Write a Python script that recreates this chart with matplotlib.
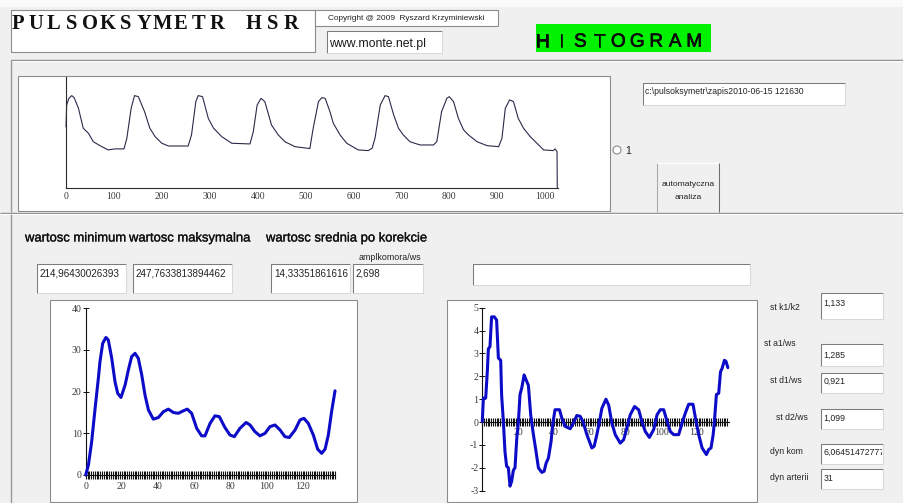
import matplotlib
matplotlib.use("Agg")
import matplotlib.pyplot as plt
import matplotlib.patheffects as pe
from matplotlib.patches import Rectangle, Circle
from matplotlib.transforms import Bbox

# ---------------- data ----------------
pulse_t = [0, 1.4, 6, 12, 17, 26, 31, 36, 47, 57, 71, 88, 102, 121, 127, 136, 143, 151, 164, 175,
           186, 200, 214, 255, 262, 271, 276, 285, 297, 308, 325, 346, 384, 391, 399, 407, 415, 429,
           443, 457, 478, 509, 516, 527, 534, 541, 551, 558, 572, 586, 610, 631, 639, 645, 656, 666,
           673, 684, 694, 704, 718, 739, 767, 774, 784, 795, 800, 809, 819, 830, 840, 858, 879, 903,
           910, 917, 926, 934, 944, 955, 969, 983, 997, 1017, 1021, 1025, 1025.5]
pulse_v = [229.6, 242.3, 246.2, 247.8, 246.6, 240.4, 234.5, 228.7, 225.7, 220.8, 218.5, 216.0, 216.6,
           216.6, 222.8, 240.4, 247.8, 247.2, 238.4, 228.7, 223.8, 219.9, 218.3, 218.3, 224.8, 244.3,
           247.8, 247.2, 234.5, 228.7, 223.8, 219.9, 219.5, 226.7, 242.3, 246.2, 244.3, 230.6, 224.8,
           220.8, 217.9, 216.8, 228.7, 244.3, 246.6, 246.2, 238.4, 231.6, 224.8, 219.9, 216.0, 215.6,
           217.0, 222.8, 242.3, 247.8, 247.2, 236.5, 228.7, 224.8, 220.8, 218.9, 218.9, 220.8, 238.4,
           246.2, 247.2, 244.3, 234.5, 227.7, 224.8, 220.8, 218.5, 217.9, 222.8, 240.4, 245.3, 244.3,
           234.5, 228.7, 223.8, 219.9, 216.0, 215.6, 216.6, 215.0, 193.7]
pulse_xticks = [0, 100, 200, 300, 400, 500, 600, 700, 800, 900, 1000]

hist_bins = [0, 1.5, 3.3, 5.2, 7, 7.9, 9.4, 11.2, 12.5, 14.4, 16.2, 17.7, 19.5, 21.8, 23.6, 25.4,
             27.3, 29.1, 31, 32.8, 34.7, 37.4, 40.2, 43, 45.7, 48.5, 51.2, 54, 56.2, 58.6, 61.4, 64.1,
             66, 68.8, 71.5, 73.9, 77, 79.8, 82.2, 85.3, 88.7, 90.9, 93.6, 96.4, 99.2, 101.9, 104.7,
             107.5, 110.2, 112.6, 115.8, 118.5, 120.7, 123.1, 125.9, 128.3, 130.5, 132.4, 134.2, 136,
             137.9]
hist_vals = [0, 2.4, 8, 16, 23.2, 27.2, 31.6, 33, 32.4, 28, 22.4, 19.6, 18.6, 21.6, 25.2, 28.4,
             29.2, 28, 24, 19.2, 15.6, 13.4, 13.8, 15.2, 15.8, 15, 14.8, 15.4, 15.8, 14.8, 11.2, 9.4,
             9.4, 12.4, 14.2, 14, 11.4, 9.6, 9.2, 11.2, 12.6, 12, 10.4, 9.4, 10, 11.6, 12, 10.8, 9.2,
             9, 10.8, 13.2, 13.6, 12.4, 9.6, 6.2, 5.2, 6.2, 9.6, 15.2, 20.2]
hist_xticks = [0, 20, 40, 60, 80, 100, 120]
hist_yticks = [0, 10, 20, 30, 40]

deriv_t = [0, 0.6, 1.9, 2.8, 3.4, 4.3, 5.2, 6.7, 8, 9, 10.3, 10.8, 11.8, 12.7, 13.6, 14.6, 15.5,
           16.4, 17.4, 18.3, 19.3, 20.2, 21.1, 22.1, 23.4, 24.5, 25.8, 27.1, 28.6, 30.1, 31.4, 33.3,
           34.6, 35.7, 37, 38.5, 39.4, 40.7, 43.2, 44.5, 46.4, 49.2, 51, 52.9, 54.8, 56.3, 58.5,
           61.3, 62.6, 64.1, 65.6, 66.9, 69.2, 70.7, 72.5, 74.4, 77.2, 79.1, 80.9, 82.8, 85.2, 87.5,
           89.3, 91.2, 93.5, 95.9, 97.8, 99.6, 101.5, 103.4, 105.2, 107.1, 109.9, 111.8, 113.6,
           115.5, 117.9, 119.3, 121.1, 123, 125.4, 126.7, 128, 129.2, 129.9, 131, 132.3, 133.3,
           134.2, 135.5, 136.4, 137.4]
deriv_v = [0.03, 1.05, 1.05, 2.2, 3.2, 3.3, 4.6, 4.6, 4.46, 2.8, 2.7, 1.2, 0, -1.3, -1.93, -2, -2.8,
           -2.6, -2.1, -2, -0.7, 0, 1.2, 1.5, 2.06, 1.85, 1.6, 0.3, -0.55, -1.3, -2, -2.2, -2.15,
           -1.8, -1.57, -0.84, -0.1, 0.54, 0.54, 0.17, -0.19, -0.29, -0.04, 0.29, 0.25, 0.03, -0.55,
           -1.13, -1.06, -0.55, 0.03, 0.6, 1.0, 0.75, -0.04, -0.55, -0.92, -0.77, -0.26, 0.32, 0.68,
           0.54, 0.03, -0.41, -0.67, -0.33, 0.32, 0.54, 0.54, 0.03, -0.41, -0.55, -0.55, -0.04, 0.39,
           0.78, 0.78, 0.17, -0.55, -1.13, -1.42, -1.2, -1.13, -0.55, 0.03, 1.2, 1.26, 2.2, 2.35,
           2.7, 2.65, 2.38]
deriv_xticks = [20, 40, 60, 80, 100, 120]
deriv_yticks = [-3, -2, -1, 0, 1, 2, 3, 4, 5]

title_word1 = "PULSOKSYMETR"
title_word2 = "HSR"
badge_text = "HISTOGRAM"
copyright_text = "Copyright @ 2009  Ryszard Krzyminiewski"
www_text = "www.monte.net.pl"
path_text = "c:\\pulsoksymetr\\zapis2010-06-15 121630"
button_lines = ["automatyczna", "analiza"]
header_labels = ["wartosc minimum", "wartosc maksymalna", "wartosc srednia po korekcie"]
field_values = ["214,96430026393", "247,7633813894462", "14,33351861616", "2,698"]
side_labels = ["st k1/k2", "st a1/ws", "st d1/ws", "st d2/ws", "dyn kom", "dyn arterii"]
side_values = ["1,133", "1,285", "0,921", "1,099", "6,06451472777", "31"]

# ---------------- fonts ----------------
SANS = 'Liberation Sans'
SERIF = 'Liberation Serif'
plt.rcParams['font.family'] = [SERIF, 'DejaVu Serif']
plt.rcParams['axes.unicode_minus'] = False

W, H = 904, 503
fig = plt.figure(figsize=(W / 100, H / 100), dpi=100)
fig.patch.set_facecolor('#f0f0f0')
ui = fig.add_axes([0, 0, 1, 1])
ui.set_xlim(0, W)
ui.set_ylim(H, 0)
ui.axis('off')
ui.set_zorder(0)


def rect(x0, y0, x1, y1, fc, ec='none', lw=0.8, z=1):
    ui.add_patch(Rectangle((x0, y0), x1 - x0, y1 - y0, facecolor=fc, edgecolor=ec,
                           linewidth=lw, zorder=z))


def seg(xs, ys, c, lw=0.75, z=2):
    ui.plot(xs, ys, color=c, lw=lw, solid_capstyle='butt', zorder=z)


def sunken(x0, y0, x1, y1, fc='white'):
    rect(x0, y0, x1, y1, fc)
    seg([x0, x0, x1], [y1, y0, y0], '#7c7c7c')
    seg([x0, x1, x1], [y1, y1, y0], '#d8d8d8')


def txt(x, y, s, em, family=SANS, color='#1a1a1a', ha='left', weight='normal', clip=None,
        stroke=0.0):
    t = ui.text(x, y, s, fontsize=em * 0.72, family=family, color=color, ha=ha,
                va='baseline', weight=weight, zorder=5)
    if stroke > 0:
        t.set_path_effects([pe.withStroke(linewidth=stroke, foreground=color)])
    if clip is not None:
        cx0, cy0, cx1, cy1 = clip
        t.set_clip_box(Bbox.from_extents(cx0, H - cy1, cx1, H - cy0))
        t.set_clip_on(True)
    return t


# ---------------- header ----------------
rect(0, 0, W, 7, '#fafafa')
rect(11, 10, 315, 52, 'white', ec='#8c8c8c')
for i, ch in enumerate(title_word1):
    txt(17.5 + i * 18.1, 29.3, ch, 20.5, family=SERIF, ha='center', weight='bold',
        color='#111111')
for i, ch in enumerate(title_word2):
    txt(253.5 + i * 18.7, 29.3, ch, 20.5, family=SERIF, ha='center', weight='bold',
        color='#111111')

rect(315, 10, 498, 26, 'white', ec='#8c8c8c')
txt(328, 19.5, copyright_text, 8.3, color='#222222')
sunken(327, 31, 442, 53)
txt(329.5, 46.5, www_text, 12.3)

rect(536, 24, 711, 52, '#00f200')
for i, ch in enumerate(badge_text):
    txt(542.5 + i * 18.95, 46.7, ch, 19.0, ha='center', color='#0a0a0a', stroke=0.45)

# upper panel
seg([11, W], [60, 60], '#8a8a8a', lw=1.0)
seg([12, W], [61, 61], 'white', lw=0.8)
seg([11, 11], [60, 212], '#9a9a9a', lw=1.0)
rect(18, 76, 610, 211, 'white', ec='#8c8c8c')

sunken(643, 83, 845, 105)
txt(645.5, 94, path_text, 8.6, color='#222222')
ui.add_patch(Circle((617, 150), 4, facecolor='white', edgecolor='#8a8a8a', lw=0.8, zorder=2))
txt(625.5, 153.5, "1", 10.5, color='#222222')

rect(657, 163, 719, 212, '#f0f0f0')
seg([657, 657], [163, 212], '#a8a8a8')
seg([657, 719], [163, 163], '#ffffff')
seg([719, 719], [163, 212], '#6e6e6e')
txt(688, 186, button_lines[0], 8.5, ha='center', color='#222222')
txt(688, 199, button_lines[1], 8.5, ha='center', color='#222222')

seg([0, W], [212.5, 212.5], '#8f8f8f', lw=1.0)
seg([0, W], [213.6, 213.6], 'white', lw=0.8)
seg([11, 11], [214, H], '#9a9a9a', lw=1.0)

# lower panel labels and fields
for x, s in zip([25, 129, 266], header_labels):
    txt(x, 241.5, s, 13, color='#101010', stroke=0.2)
txt(359, 259.5, "amplkomora/ws", 8.9, color='#222222')

for (x0, x1), s in zip([(37, 126), (133, 232), (271, 350), (353, 423)], field_values):
    sunken(x0, 264, x1, 293)
    txt(x0 + 3, 277, s, 9.9, color='#222222', clip=(x0 + 1, 264, x1 - 1, 293))
sunken(473, 264, 750, 285)

rect(50, 300, 357, 502, 'white', ec='#8c8c8c')
rect(447, 300, 757, 502, 'white', ec='#8c8c8c')

side_label_pos = [(770, 310), (764, 346), (770, 383), (776, 420.5), (770, 454.5), (770, 479.5)]
side_box_pos = [(293, 319, 306), (344, 366, 358), (373, 393, 384), (409, 429, 421),
                (444, 464, 455), (469, 489, 481)]
for (lx, ly), s in zip(side_label_pos, side_labels):
    txt(lx, ly, s, 8.7, color='#222222')
for (y0, y1, by), s in zip(side_box_pos, side_values):
    sunken(821, y0, 883, y1)
    txt(823.5, by, s, 8.8, color='#222222', clip=(822, y0, 882, y1))


# ---------------- charts ----------------
def px_axes(L, T, R, B):
    a = fig.add_axes([L / W, 1 - B / H, (R - L) / W, (B - T) / H])
    a.set_zorder(2)
    a.patch.set_visible(False)
    return a


LABEL_COLOR = '#3a3a3a'

# pulse waveform
ax1 = px_axes(66, 77, 558, 188)
ax1.plot(pulse_t, pulse_v, color='#2a2a4a', lw=0.8, clip_on=False)
ax1.set_xlim(0, 1027)
ax1.set_ylim(193.7, 258.7)
for s in ['top', 'right']:
    ax1.spines[s].set_visible(False)
for s in ['left', 'bottom']:
    ax1.spines[s].set_color('#2a2a2a')
    ax1.spines[s].set_linewidth(0.8)
ax1.set_xticks(pulse_xticks)
ax1.set_yticks([])
ax1.tick_params(axis='x', length=0, pad=2.8, labelsize=6.9, labelcolor=LABEL_COLOR)


def hatch_axes(ax, xmax_tick):
    for s in ['top', 'right']:
        ax.spines[s].set_visible(False)
    for s in ['left', 'bottom']:
        ax.spines[s].set_color('#111111')
        ax.spines[s].set_linewidth(0.8)
    ax.set_xticks(list(range(0, xmax_tick + 1)), minor=True)
    ax.tick_params(axis='x', which='both', direction='inout', length=5.6, width=0.8,
                   color='#111111', pad=2.0, labelsize=7.1, labelcolor=LABEL_COLOR)
    ax.tick_params(axis='y', which='both', direction='inout', length=3.8, width=0.7,
                   color='#111111', pad=1.0, labelsize=7.1, labelcolor=LABEL_COLOR)


# histogram
ax2 = px_axes(85.7, 308.3, 335.2, 475)
ax2.plot(hist_bins, hist_vals, color='#0c0cc8', lw=2.2, solid_joinstyle='round',
         solid_capstyle='round', clip_on=False, zorder=3)
ax2.set_xlim(0, 138)
ax2.set_ylim(0, 40)
ax2.set_xticks(hist_xticks)
ax2.set_yticks(hist_yticks)
hatch_axes(ax2, 138)

# derivative-like curve
ax3 = px_axes(482.3, 307.7, 728.9, 490.7)
ax3.plot(deriv_t, deriv_v, color='#0c0cc8', lw=2.2, solid_joinstyle='round',
         solid_capstyle='round', clip_on=False, zorder=3)
ax3.set_xlim(0, 138)
ax3.set_ylim(-3, 5)
ax3.spines['bottom'].set_position(('data', 0))
ax3.set_xticks(deriv_xticks)
ax3.set_yticks(deriv_yticks)
hatch_axes(ax3, 137)
ax3.tick_params(axis='x', which='both', length=6.0, pad=1.2)

fig.savefig("out.png", dpi=100, facecolor=fig.get_facecolor())
